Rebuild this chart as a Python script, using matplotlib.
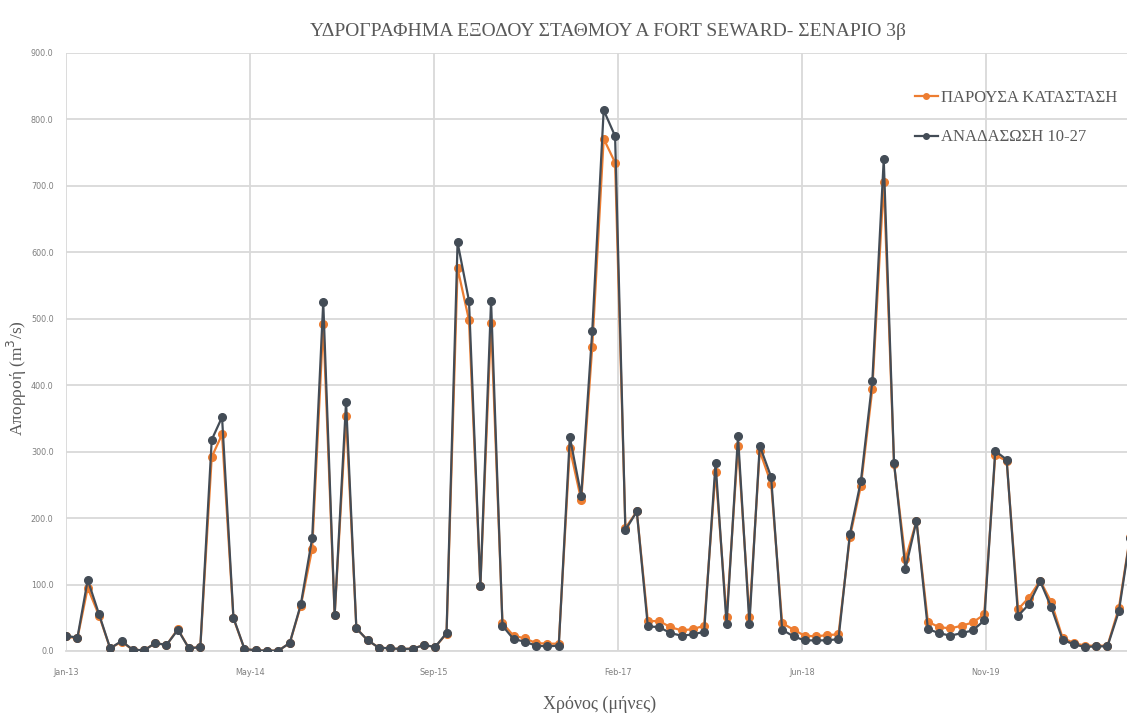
import datetime as dt
import matplotlib
matplotlib.use("Agg")
import matplotlib.pyplot as plt
import matplotlib.dates as mdates
from matplotlib import font_manager
import pandas as pd

# Monthly runoff at Fort Seward outlet (m3/s), Jan 2013 - Dec 2020
months = pd.date_range("2013-01-01", periods=96, freq="MS")

current_state = [
    22, 19, 95, 53, 4, 14, 2, 1, 12, 9, 33, 4,
    6, 292, 326, 49, 3, 1, 0.5, 0.5, 12, 68, 154, 492,
    54, 354, 34, 16, 5, 4, 3, 3.5, 9, 6, 26, 576,
    498, 98, 494, 42, 23, 19, 12, 11, 11, 305, 227, 458,
    771, 735, 185, 210, 45, 45, 36, 31, 33, 38, 270, 51,
    309, 51, 301, 252, 42, 32, 23, 22, 24, 25, 171, 249,
    394, 706, 281, 138, 196, 44, 36, 34, 38, 43, 55, 295,
    286, 63, 80, 106, 74, 20, 12, 8, 8, 8, 65, 172,
]

reforestation = [
    23, 20, 107, 55, 4, 15, 2, 1, 12, 9, 32, 4,
    6, 318, 352, 50, 3, 1, 0.5, 0.5, 12, 70, 170, 525,
    54, 375, 34, 16, 5, 4, 3, 3.5, 9, 6, 27, 615,
    527, 98, 527, 38, 18, 14, 8, 7, 8, 322, 234, 482,
    814, 775, 182, 210, 37, 36, 27, 23, 25, 29, 283, 40,
    323, 41, 309, 262, 32, 22, 16, 16, 16, 18, 176, 256,
    406, 740, 283, 124, 196, 33, 27, 23, 27, 31, 46, 301,
    288, 53, 70, 105, 66, 17, 10, 6, 7, 7, 60, 170,
]

series_labels = ["ΠΑΡΟΥΣΑ ΚΑΤΑΣΤΑΣΗ", "ΑΝΑΔΑΣΩΣΗ 10-27"]
title = "ΥΔΡΟΓΡΑΦΗΜΑ ΕΞΟΔΟΥ ΣΤΑΘΜΟΥ Α FORT SEWARD- ΣΕΝΑΡΙΟ 3β"
y_label = "Απορροή (m$^3$/s)"
x_label = "Χρόνος (μήνες)"

orange = "#ED7D31"
dark = "#434C56"
grid_col = "#D9D9D9"
tick_col = "#7F7F7F"
text_col = "#595959"

names = {f.name for f in font_manager.fontManager.ttflist}
narrow_sans = "Liberation Sans Narrow" if "Liberation Sans Narrow" in names else "DejaVu Sans"
serif = ["Liberation Serif", "DejaVu Serif"]

fig = plt.figure(figsize=(11.27, 7.2), dpi=100)
ax = fig.add_axes([66 / 1127, 1 - 651 / 720, 1 - 66 / 1127, (651 - 53) / 720])

ax.plot(months, current_state, color=orange, lw=1.6, marker="o", ms=5.5,
        label=series_labels[0], zorder=3)
ax.plot(months, reforestation, color=dark, lw=1.6, marker="o", ms=5.5,
        label=series_labels[1], zorder=4)

start = dt.datetime(2013, 1, 1)
ax.set_xlim(start, start + dt.timedelta(days=2883))
ax.set_ylim(0, 900)

ax.set_yticks(range(0, 901, 100))
ax.set_yticklabels([f"{v:.1f}" for v in range(0, 901, 100)])
ax.set_xticks([start + dt.timedelta(days=500 * k) for k in range(6)])
ax.xaxis.set_major_formatter(mdates.DateFormatter("%b-%y"))

ax.grid(True, color=grid_col, lw=1.3)
ax.set_axisbelow(True)
for side in ["top", "right", "left"]:
    ax.spines[side].set_visible(False)
ax.spines["bottom"].set_color(grid_col)
ax.spines["bottom"].set_linewidth(1.3)

ax.tick_params(axis="both", length=0, labelsize=6.5, labelcolor=tick_col)
ax.tick_params(axis="y", pad=9)
ax.tick_params(axis="x", pad=12)
for lab in ax.get_xticklabels() + ax.get_yticklabels():
    lab.set_fontfamily(narrow_sans)
    lab.set_fontstretch("condensed")

fig.text(608 / 1127, 1 - 32 / 720, title, ha="center", va="center",
         family=serif, fontsize=14, color=text_col)
fig.text(17 / 1127, 1 - 378 / 720, y_label, rotation=90, ha="center",
         va="center", family=serif, fontsize=12.5, color=text_col)
fig.text(600 / 1127, 1 - 704 / 720, x_label, ha="center", va="center",
         family=serif, fontsize=13, color=text_col)

leg = ax.legend(loc="upper left", bbox_to_anchor=(0.800, 0.938), frameon=False,
                borderpad=0, borderaxespad=0,
                handlelength=1.4, handletextpad=0.2, labelspacing=1.4,
                prop={"family": serif, "size": 12})
for t in leg.get_texts():
    t.set_color(text_col)
for h in leg.legend_handles:
    h.set_markersize(4)

fig.savefig("out.png", dpi=100, facecolor="white")
